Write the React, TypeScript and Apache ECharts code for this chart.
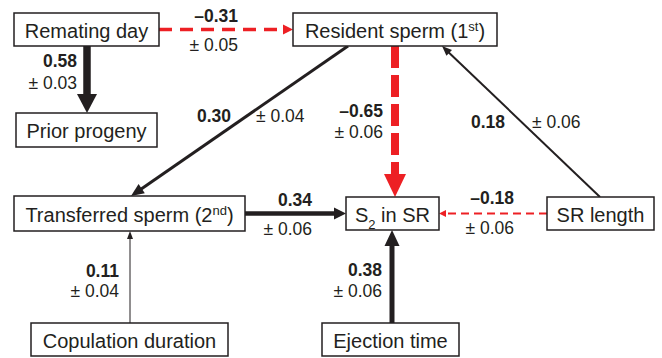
import React, { useEffect, useRef } from "react";
import * as echarts from "echarts";

// ---- data ----
const nodeLabels = [
  "{n|Remating day}",
  "{n|Prior progeny}",
  "{n|Resident sperm (1}{sup|st}{n|)}",
  "{n|Transferred sperm (2}{sup|nd}{n|)}",
  "{n|S}{sub|2}{n| in SR}",
  "{n|SR length}",
  "{n|Copulation duration}",
  "{n|Ejection time}",
];
const edgeFrom = [0, 0, 2, 2, 5, 3, 5, 6, 7];
const edgeTo = [2, 1, 3, 4, 2, 4, 4, 3, 4];
const coefficients = [-0.31, 0.58, 0.3, -0.65, 0.18, 0.34, -0.18, 0.11, 0.38];
const standardErrors = [0.05, 0.03, 0.04, 0.06, 0.06, 0.06, 0.06, 0.04, 0.06];

// ---- layout (pixel space of the 662x358 canvas) ----
const nodeBoxes = [
  { x: 14, y: 13, w: 145, h: 33 },
  { x: 16, y: 113, w: 141, h: 34 },
  { x: 293, y: 13, w: 204, h: 33 },
  { x: 14, y: 196, w: 231, h: 35 },
  { x: 346, y: 197, w: 93, h: 33 },
  { x: 547, y: 197, w: 107, h: 33 },
  { x: 31, y: 323, w: 197, h: 33 },
  { x: 322, y: 323, w: 137, h: 33 },
];
const RED = "#ed2024";
const INK = "#231f20";
const edgeLayout = [
  { from: [159, 29.5], to: [293, 29.5], w: 3.5, color: RED, dash: [13, 8], hl: 10, hw: 10,
    c: [238, 16, "right"], s: [238, 45, "right"] },
  { from: [87, 46], to: [87, 113], w: 7.5, color: INK, dash: null, hl: 19, hw: 20,
    c: [77, 61, "right"], s: [77, 83, "right"] },
  { from: [348, 46], to: [131, 196], w: 3, color: INK, dash: null, hl: 13, hw: 11,
    c: [231, 116, "right"], s: [256, 116, "left"] },
  { from: [395, 46], to: [395, 197], w: 8, color: RED, dash: [22, 7], hl: 23, hw: 22,
    c: [383, 111, "right"], s: [383, 132, "right"] },
  { from: [600, 197], to: [442, 46], w: 2, color: INK, dash: null, hl: 10, hw: 8,
    c: [505, 122, "right"], s: [532, 122, "left"] },
  { from: [245, 213.5], to: [346, 213.5], w: 4.5, color: INK, dash: null, hl: 12, hw: 12,
    c: [312, 200, "right"], s: [312, 229, "right"] },
  { from: [547, 213.5], to: [439, 213.5], w: 2, color: RED, dash: [8, 5], hl: 7, hw: 7,
    c: [514, 198, "right"], s: [514, 228, "right"] },
  { from: [130, 323], to: [130, 231], w: 1, color: INK, dash: null, hl: 8, hw: 6,
    c: [119, 271, "right"], s: [119, 291, "right"] },
  { from: [392, 323], to: [392, 230], w: 5, color: INK, dash: null, hl: 16, hw: 15,
    c: [382, 270, "right"], s: [382, 291, "right"] },
];

const FONT = '"Liberation Sans", Arial, Helvetica, sans-serif';
const fmtCoef = (v: number) => (v < 0 ? "\u2013" : "") + Math.abs(v).toFixed(2);
const fmtSe = (v: number) => "\u00b1 " + v.toFixed(2);

export default function App() {
  const ref = useRef<HTMLDivElement>(null);
  useEffect(() => {
    if (!ref.current) return;
    const chart = echarts.init(ref.current, null, { renderer: "svg" });

    const edgeRender = (params: any, api: any) => {
      const i = params.dataIndex;
      const L = edgeLayout[i];
      const a = api.coord(L.from);
      const b = api.coord(L.to);
      const dx = b[0] - a[0];
      const dy = b[1] - a[1];
      const len = Math.sqrt(dx * dx + dy * dy);
      const ux = dx / len;
      const uy = dy / len;
      const nx = -uy;
      const ny = ux;
      const bx = b[0] - ux * L.hl;
      const by = b[1] - uy * L.hl;
      const endX = b[0] - ux * (L.hl - 1);
      const endY = b[1] - uy * (L.hl - 1);
      const c = api.coord([L.c[0], L.c[1]]);
      const s = api.coord([L.s[0], L.s[1]]);
      return {
        type: "group",
        children: [
          {
            type: "line",
            shape: { x1: a[0], y1: a[1], x2: endX, y2: endY },
            style: { stroke: L.color, lineWidth: L.w, lineDash: L.dash || undefined, fill: null },
          },
          {
            type: "polygon",
            shape: {
              points: [
                [b[0], b[1]],
                [bx + (nx * L.hw) / 2, by + (ny * L.hw) / 2],
                [bx - (nx * L.hw) / 2, by - (ny * L.hw) / 2],
              ],
            },
            style: { fill: L.color, stroke: null },
          },
          {
            type: "text",
            style: {
              text: fmtCoef(coefficients[i]),
              x: c[0], y: c[1],
              align: L.c[2], verticalAlign: "middle",
              fontFamily: FONT, fontSize: 17.5, fontWeight: "bold", fill: INK,
            },
          },
          {
            type: "text",
            style: {
              text: fmtSe(standardErrors[i]),
              x: s[0], y: s[1],
              align: L.s[2], verticalAlign: "middle",
              fontFamily: FONT, fontSize: 17.5, fill: INK,
            },
          },
        ],
      };
    };

    const nodeRender = (params: any, api: any) => {
      const i = params.dataIndex;
      const B = nodeBoxes[i];
      const p = api.coord([B.x, B.y]);
      const q = api.coord([B.x + B.w, B.y + B.h]);
      return {
        type: "group",
        children: [
          {
            type: "rect",
            shape: { x: p[0], y: p[1], width: q[0] - p[0], height: q[1] - p[1] },
            style: { fill: "#fff", stroke: INK, lineWidth: 1.5 },
          },
          {
            type: "text",
            style: {
              text: nodeLabels[i],
              x: (p[0] + q[0]) / 2,
              y: (p[1] + q[1]) / 2 + 1,
              align: "center",
              verticalAlign: "middle",
              rich: {
                n: { fontFamily: FONT, fontSize: 20, fill: INK, lineHeight: 22 },
                sup: { fontFamily: FONT, fontSize: 13, fill: INK, lineHeight: 13, verticalAlign: "top" },
                sub: { fontFamily: FONT, fontSize: 13, fill: INK, lineHeight: 13, verticalAlign: "bottom", padding: [0, 0, -5, 0] },
              },
            },
          },
        ],
      };
    };

    chart.setOption({
      animation: false,
      backgroundColor: "#fff",
      grid: { left: 0, right: 0, top: 0, bottom: 0 },
      xAxis: { type: "value", min: 0, max: 662, show: false },
      yAxis: { type: "value", min: 0, max: 358, inverse: true, show: false },
      series: [
        {
          type: "custom",
          clip: false,
          renderItem: edgeRender,
          data: edgeFrom.map((f, i) => [i, f, edgeTo[i]]),
          z: 1,
        },
        {
          type: "custom",
          clip: false,
          renderItem: nodeRender,
          data: nodeLabels.map((_, i) => [i]),
          z: 2,
        },
      ],
    });
    return () => chart.dispose();
  }, []);
  return (
    <div
      ref={ref}
      style={{ position: "fixed", left: 0, top: 0, width: 662, height: 358 }}
    />
  );
}
